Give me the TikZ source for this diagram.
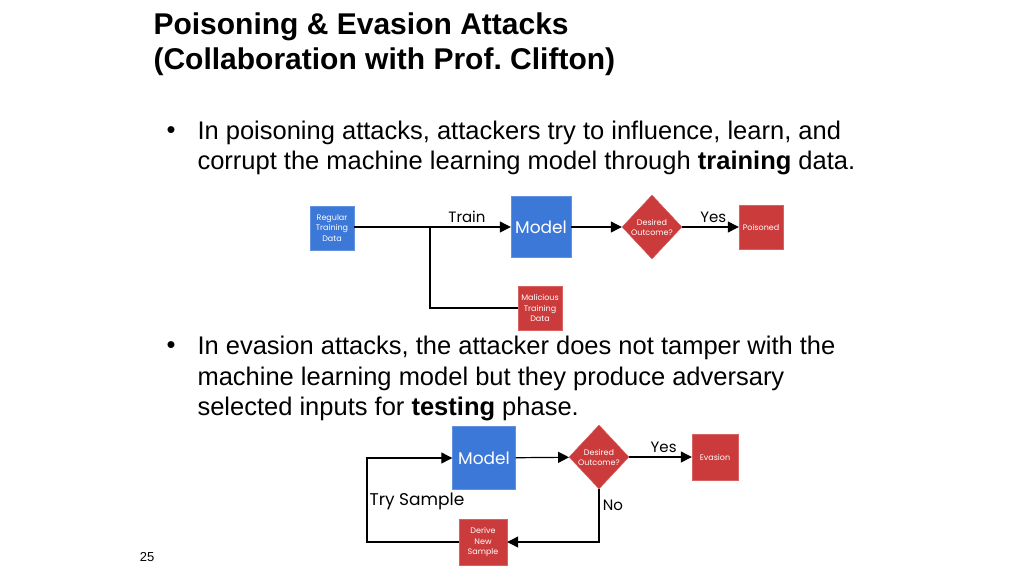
\documentclass[tikz,border=0pt]{standalone}
\usepackage{fontspec}
\setmainfont{Liberation Sans}
\newfontfamily\dia{Poppins}
\usetikzlibrary{shapes.geometric,arrows.meta}
\definecolor{bl}{HTML}{3C78D8}
\definecolor{rd}{HTML}{CC3B3B}
\begin{document}
\begin{tikzpicture}[x=1pt,y=-1pt,
 bx/.style={draw=#1!80!white,fill=#1,text=white,minimum width=44pt,minimum height=44pt,inner sep=1pt,align=center,font=\dia\fontsize{8}{10.5}\selectfont},
 dm/.style={diamond,draw=rd!80!white,fill=rd,text=white,minimum width=60pt,minimum height=64pt,inner sep=0pt,align=center,font=\dia\fontsize{8}{10}\selectfont},
 ar/.style={line width=1.2pt,-{Triangle[length=11pt,width=11pt]}},
 ln/.style={line width=1.2pt},
 lb/.style={font=\dia\fontsize{15}{16}\selectfont},
 bt/.style={anchor=west,font=\fontsize{25.5}{28}\selectfont}]
\useasboundingbox (0,0) rectangle (1024,576);
\node[anchor=west,font=\bfseries\fontsize{30}{32}\selectfont] (t1) at (150,27) {Poisoning \& Evasion Attacks};
\node[anchor=west,font=\bfseries\fontsize{30}{32}\selectfont] (t2) at (150,62) {(Collaboration with Prof.\ Clifton)};
\node[bt] (b1) at (163,133) {•};
\node[bt] (l1) at (194,133) {In poisoning attacks, attackers try to influence, learn, and};
\node[bt] (l2) at (194,163) {corrupt the machine learning model through \textbf{training} data.};
\node[bt] (b2) at (163,348) {•};
\node[bt] (l3) at (194,348) {In evasion attacks, the attacker does not tamper with the};
\node[bt] (l4) at (194,379) {machine learning model but they produce adversary};
\node[bt] (l5) at (194,409) {selected inputs for \textbf{testing} phase.};
\node[font=\fontsize{13}{14}\selectfont] (pg) at (147,557) {25};
% diagram 1
\node[bx=bl,minimum width=44pt] (reg) at (332,228) {Regular\\Training\\Data};
\node[bx=bl,minimum width=60pt,minimum height=61pt,font=\dia\fontsize{17}{19}\selectfont] (m1) at (541,227) {Model};
\node[dm] (d1) at (652,227) {Desired\\Outcome?};
\node[bx=rd] (pois) at (761,227) {Poisoned};
\node[bx=rd] (mal) at (540,308) {Malicious\\Training\\Data};
\coordinate (br) at (430,226);
\draw[ar] (reg.east|-m1) -- node[lb,above,pos=0.72]{Train} (m1);
\draw[ln] (br) |- (mal);
\draw[ar] (m1) -- (d1);
\draw[ar] (d1) -- node[lb,above,pos=0.55]{Yes} (pois);
% diagram 2
\node[bx=bl,minimum width=63pt,minimum height=63pt,font=\dia\fontsize{17}{19}\selectfont] (m2) at (484,458) {Model};
\node[dm] (d2) at (599,457) {Desired\\Outcome?};
\node[bx=rd,minimum width=46pt,minimum height=46pt] (ev) at (715,457) {Evasion};
\node[bx=rd,minimum width=48pt,minimum height=46pt] (der) at (483,542) {Derive\\New\\Sample};
\coordinate (lc) at (367,542);
\draw[ar] (m2) -- (d2);
\draw[ar] (d2) -- node[lb,above,pos=0.55]{Yes} (ev);
\draw[ar] (d2.south) -- node[lb,right,pos=0.3]{No} (d2.south|-der) -- (der);
\draw[ar] (der) -- (lc) |- (m2);
\node[lb,font=\dia\fontsize{17}{18}\selectfont] (ts) at (417,501) {Try Sample};
\end{tikzpicture}
\end{document}
